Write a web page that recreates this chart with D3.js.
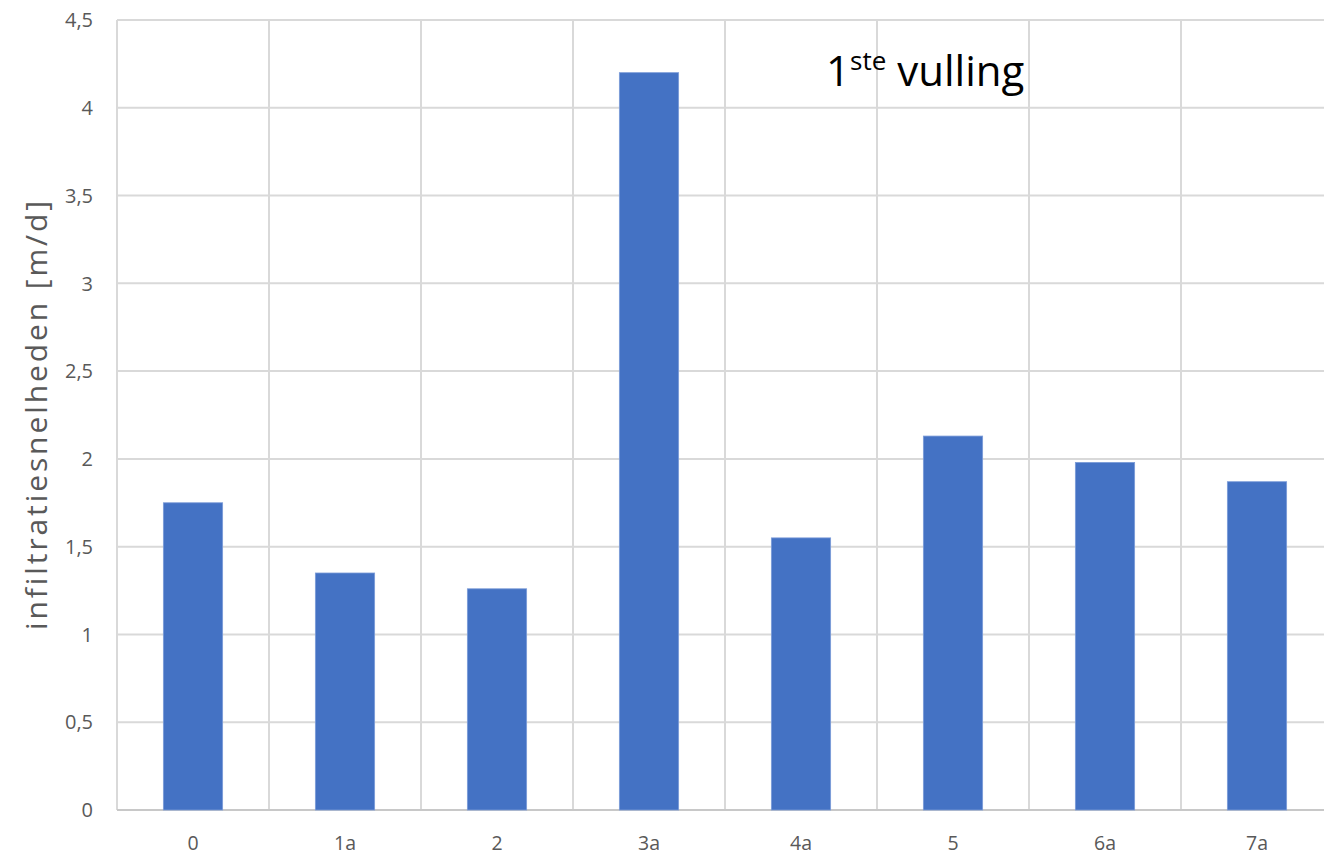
<!DOCTYPE html>
<html>
<head>
<meta charset="utf-8">
<script src="https://cdn.jsdelivr.net/npm/d3@7"></script>
<style>
  html, body { margin: 0; padding: 0; background: #fff; }
  svg { display: block; }
</style>
</head>
<body>
<svg id="chart" width="1324" height="857"></svg>
<script>
// Infiltration rates per test location, first filling
const categories = ["0", "1a", "2", "3a", "4a", "5", "6a", "7a"];
const values = [1.75, 1.35, 1.26, 4.2, 1.55, 2.13, 1.98, 1.87];
const yTicks = [0, 0.5, 1, 1.5, 2, 2.5, 3, 3.5, 4, 4.5];
const yTitle = "infiltratiesnelheden [m/d]";

const W = 1324, H = 857;
const plotLeft = 117, plotRight = 1333, plotTop = 20, plotBottom = 810;
const font = "'Open Sans', 'Noto Sans', sans-serif";

const svg = d3.select("#chart");

const y = d3.scaleLinear().domain([0, 4.5]).range([plotBottom, plotTop]);
const xCell = d3.scaleBand().domain(categories).range([plotLeft, plotRight]);
const x = d3.scaleBand().domain(categories).range([plotLeft, plotRight])
  .paddingInner(0.61).paddingOuter(0.305);

// horizontal gridlines
svg.append("g").selectAll("line").data(yTicks.filter(d => d > 0)).join("line")
  .attr("x1", plotLeft).attr("x2", W)
  .attr("y1", d => y(d)).attr("y2", d => y(d))
  .attr("stroke", "#d9d9d9").attr("stroke-width", 2);

// vertical gridlines at category boundaries
svg.append("g").selectAll("line").data(categories).join("line")
  .attr("x1", d => xCell(d)).attr("x2", d => xCell(d))
  .attr("y1", plotTop).attr("y2", plotBottom)
  .attr("stroke", "#d9d9d9").attr("stroke-width", 2);

// baseline
svg.append("line")
  .attr("x1", plotLeft).attr("x2", W)
  .attr("y1", y(0)).attr("y2", y(0))
  .attr("stroke", "#c8c8c8").attr("stroke-width", 2);

// bars
svg.append("g").selectAll("rect").data(values).join("rect")
  .attr("x", (d, i) => x(categories[i]))
  .attr("width", x.bandwidth())
  .attr("y", d => y(d))
  .attr("height", d => y(0) - y(d))
  .attr("fill", "#4472c4")
  .attr("stroke", "#7b9bd8").attr("stroke-width", 0.8);

// y tick labels
svg.append("g").selectAll("text").data(yTicks).join("text")
  .attr("x", 93).attr("y", d => y(d))
  .attr("dy", "0.36em")
  .attr("text-anchor", "end")
  .attr("font-family", font).attr("font-size", 20)
  .attr("fill", "#595959")
  .text(d => d3.format("")(d).replace(".", ","));

// x tick labels
svg.append("g").selectAll("text").data(categories).join("text")
  .attr("x", d => x(d) + x.bandwidth() / 2).attr("y", 843)
  .attr("dy", "0.36em")
  .attr("text-anchor", "middle")
  .attr("font-family", font).attr("font-size", 19.5)
  .attr("fill", "#595959")
  .text(d => d);

// y axis title
svg.append("text")
  .attr("transform", `translate(36, 414) rotate(-90)`)
  .attr("dy", "0.36em")
  .attr("text-anchor", "middle")
  .attr("font-family", font).attr("font-size", 30)
  .attr("letter-spacing", 2.9)
  .attr("fill", "#595959")
  .text(yTitle);

// chart label
const label = svg.append("text")
  .attr("x", 826).attr("y", 86)
  .attr("font-family", font).attr("font-size", 42)
  .attr("fill", "#000");
label.append("tspan").text("1");
label.append("tspan").attr("font-size", 26).attr("dy", -16).text("ste");
label.append("tspan").attr("dy", 16).text(" vulling");
</script>
</body>
</html>
